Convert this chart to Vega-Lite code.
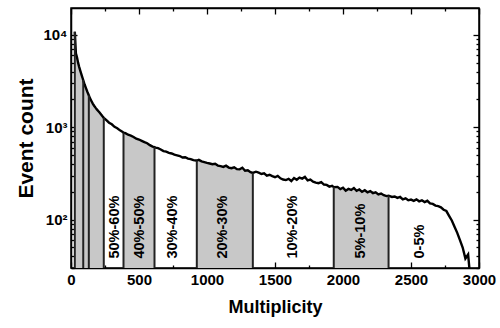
{
  "$schema": "https://vega.github.io/schema/vega-lite/v6.json",
  "width": 408,
  "height": 260,
  "autosize": {"type": "none"},
  "padding": {"left": 71, "top": 8, "right": 21, "bottom": 60},
  "background": "white",
  "config": {
    "view": {"stroke": "black", "strokeWidth": 1.5},
    "font": "Liberation Sans",
    "axis": {
      "labelFont": "Liberation Sans",
      "labelFontWeight": "bold",
      "labelFontSize": 15,
      "labelColor": "black",
      "titleFont": "Liberation Sans",
      "titleFontWeight": "bold",
      "titleColor": "black",
      "domainColor": "black",
      "domainWidth": 1.5,
      "tickColor": "black",
      "tickWidth": 1.3,
      "grid": false,
      "labelOverlap": false,
      "labelBound": false,
      "labelFlush": false
    }
  },
  "datasets": {
    "h": [
      {"m": 28, "c": 10800}, {"m": 36, "c": 6300}, {"m": 44, "c": 5700}, {"m": 52, "c": 5000},
      {"m": 60, "c": 4500}, {"m": 68, "c": 4100}, {"m": 76, "c": 3750}, {"m": 84, "c": 3450},
      {"m": 92, "c": 3150}, {"m": 100, "c": 2900}, {"m": 110, "c": 2650}, {"m": 120, "c": 2420},
      {"m": 130, "c": 2230}, {"m": 140, "c": 2050}, {"m": 150, "c": 1920}, {"m": 160, "c": 1800},
      {"m": 170, "c": 1710}, {"m": 180, "c": 1630}, {"m": 190, "c": 1560}, {"m": 200, "c": 1500},
      {"m": 210, "c": 1440}, {"m": 220, "c": 1380}, {"m": 230, "c": 1320}, {"m": 241, "c": 1265},
      {"m": 260, "c": 1195}, {"m": 280, "c": 1120}, {"m": 300, "c": 1075}, {"m": 320, "c": 1010},
      {"m": 340, "c": 975}, {"m": 360, "c": 925}, {"m": 380, "c": 890}, {"m": 386, "c": 875},
      {"m": 400, "c": 862}, {"m": 420, "c": 830}, {"m": 440, "c": 812}, {"m": 460, "c": 785},
      {"m": 480, "c": 752}, {"m": 500, "c": 736}, {"m": 520, "c": 712}, {"m": 540, "c": 690},
      {"m": 560, "c": 672}, {"m": 580, "c": 640}, {"m": 600, "c": 618}, {"m": 614, "c": 610},
      {"m": 620, "c": 602}, {"m": 640, "c": 594}, {"m": 660, "c": 575}, {"m": 680, "c": 552},
      {"m": 700, "c": 545}, {"m": 720, "c": 528}, {"m": 740, "c": 520}, {"m": 760, "c": 505},
      {"m": 780, "c": 497}, {"m": 800, "c": 488}, {"m": 820, "c": 470}, {"m": 840, "c": 474},
      {"m": 860, "c": 458}, {"m": 880, "c": 452}, {"m": 900, "c": 440}, {"m": 920, "c": 436},
      {"m": 925, "c": 436}, {"m": 940, "c": 444}, {"m": 960, "c": 428}, {"m": 980, "c": 420},
      {"m": 1000, "c": 412}, {"m": 1020, "c": 405}, {"m": 1040, "c": 398}, {"m": 1060, "c": 402},
      {"m": 1080, "c": 385}, {"m": 1100, "c": 380}, {"m": 1120, "c": 372}, {"m": 1140, "c": 384},
      {"m": 1160, "c": 366}, {"m": 1180, "c": 360}, {"m": 1200, "c": 368}, {"m": 1220, "c": 352},
      {"m": 1240, "c": 350}, {"m": 1260, "c": 364}, {"m": 1280, "c": 338}, {"m": 1300, "c": 342},
      {"m": 1320, "c": 326}, {"m": 1337, "c": 320}, {"m": 1360, "c": 330}, {"m": 1380, "c": 322},
      {"m": 1400, "c": 312}, {"m": 1420, "c": 318}, {"m": 1440, "c": 300}, {"m": 1460, "c": 306},
      {"m": 1480, "c": 296}, {"m": 1500, "c": 288}, {"m": 1520, "c": 298}, {"m": 1540, "c": 280},
      {"m": 1560, "c": 272}, {"m": 1580, "c": 268}, {"m": 1600, "c": 276}, {"m": 1620, "c": 262},
      {"m": 1640, "c": 282}, {"m": 1660, "c": 270}, {"m": 1680, "c": 285}, {"m": 1700, "c": 278},
      {"m": 1720, "c": 290}, {"m": 1740, "c": 266}, {"m": 1760, "c": 272}, {"m": 1780, "c": 258},
      {"m": 1800, "c": 252}, {"m": 1820, "c": 248}, {"m": 1840, "c": 255}, {"m": 1860, "c": 240},
      {"m": 1880, "c": 238}, {"m": 1900, "c": 228}, {"m": 1920, "c": 232}, {"m": 1932, "c": 225},
      {"m": 1960, "c": 226}, {"m": 1980, "c": 214}, {"m": 2000, "c": 222}, {"m": 2020, "c": 206},
      {"m": 2040, "c": 215}, {"m": 2060, "c": 210}, {"m": 2080, "c": 220}, {"m": 2100, "c": 205},
      {"m": 2120, "c": 212}, {"m": 2140, "c": 200}, {"m": 2160, "c": 208}, {"m": 2180, "c": 198},
      {"m": 2200, "c": 204}, {"m": 2220, "c": 194}, {"m": 2240, "c": 198}, {"m": 2260, "c": 188},
      {"m": 2280, "c": 192}, {"m": 2300, "c": 184}, {"m": 2320, "c": 180}, {"m": 2335, "c": 182},
      {"m": 2360, "c": 176}, {"m": 2380, "c": 178}, {"m": 2400, "c": 172}, {"m": 2420, "c": 176},
      {"m": 2440, "c": 166}, {"m": 2460, "c": 170}, {"m": 2480, "c": 162}, {"m": 2500, "c": 165},
      {"m": 2520, "c": 160}, {"m": 2540, "c": 166}, {"m": 2560, "c": 158}, {"m": 2580, "c": 162},
      {"m": 2600, "c": 155}, {"m": 2620, "c": 160}, {"m": 2640, "c": 150}, {"m": 2660, "c": 148},
      {"m": 2680, "c": 142}, {"m": 2700, "c": 140}, {"m": 2720, "c": 136}, {"m": 2740, "c": 128},
      {"m": 2760, "c": 124}, {"m": 2780, "c": 110}, {"m": 2800, "c": 98}, {"m": 2820, "c": 84},
      {"m": 2840, "c": 72}, {"m": 2860, "c": 60}, {"m": 2880, "c": 50}, {"m": 2900, "c": 38},
      {"m": 2920, "c": 42}, {"m": 2940, "c": 20}
    ],
    "cuts": [
      {"m": 28, "c": 10800}, {"m": 90, "c": 3250}, {"m": 131, "c": 2210}, {"m": 241, "c": 1265},
      {"m": 386, "c": 875}, {"m": 614, "c": 610}, {"m": 925, "c": 436}, {"m": 1337, "c": 320},
      {"m": 1932, "c": 225}, {"m": 2335, "c": 182}
    ],
    "labels": [
      {"m": 320, "t": "50%-60%"}, {"m": 504, "t": "40%-50%"}, {"m": 747, "t": "30%-40%"},
      {"m": 1116, "t": "20%-30%"}, {"m": 1630, "t": "10%-20%"}, {"m": 2134, "t": "5%-10%"},
      {"m": 2563, "t": "0-5%"}
    ]
  },
  "layer": [
    {
      "data": {"name": "h"},
      "transform": [
        {"filter": "(datum.m >= 28 && datum.m <= 241) || (datum.m >= 386 && datum.m <= 614) || (datum.m >= 925 && datum.m <= 1337) || (datum.m >= 1932 && datum.m <= 2335)"},
        {"calculate": "datum.m <= 241 ? 1 : datum.m <= 614 ? 2 : datum.m <= 1337 ? 3 : 4", "as": "g"}
      ],
      "mark": {"type": "area", "color": "#c8c8c8", "clip": true},
      "encoding": {
        "x": {
          "field": "m", "type": "quantitative",
          "scale": {"domain": [0, 3000], "nice": false, "zero": false},
          "axis": {
            "title": "Multiplicity", "titleFontSize": 18, "titlePadding": 8,
            "values": [0, 250, 500, 750, 1000, 1250, 1500, 1750, 2000, 2250, 2500, 2750, 3000],
            "labelExpr": "datum.value % 500 === 0 ? '' + datum.value : ''",
            "tickSize": {"condition": {"test": "datum.value % 500 === 0", "value": -6}, "value": -3},
            "labelPadding": 10
          }
        },
        "y": {
          "field": "c", "type": "quantitative",
          "scale": {"type": "log", "domain": [30, 19500], "nice": false},
          "axis": {
            "title": "Event count", "titleFontSize": 21, "titlePadding": 6,
            "values": [30, 40, 50, 60, 70, 80, 90, 100, 200, 300, 400, 500, 600, 700, 800, 900, 1000, 2000, 3000, 4000, 5000, 6000, 7000, 8000, 9000, 10000],
            "labelExpr": "datum.value === 100 ? '10²' : datum.value === 1000 ? '10³' : datum.value === 10000 ? '10⁴' : ''",
            "tickSize": {"condition": {"test": "datum.value === 100 || datum.value === 1000 || datum.value === 10000", "value": -6}, "value": -3},
            "labelPadding": 10
          }
        },
        "y2": {"datum": 30},
        "detail": {"field": "g", "type": "nominal"}
      }
    },
    {
      "data": {"name": "h"},
      "mark": {"type": "line", "color": "black", "strokeWidth": 2.4, "clip": true},
      "encoding": {
        "x": {"field": "m", "type": "quantitative", "axis": null},
        "y": {"field": "c", "type": "quantitative", "axis": null}
      }
    },
    {
      "data": {"name": "cuts"},
      "mark": {"type": "rule", "color": "#222222", "strokeWidth": 2, "clip": true},
      "encoding": {
        "x": {
          "field": "m", "type": "quantitative",
          "axis": {
            "orient": "top", "title": null, "labels": false, "domain": true,
            "values": [0, 250, 500, 750, 1000, 1250, 1500, 1750, 2000, 2250, 2500, 2750, 3000],
            "tickSize": {"condition": {"test": "datum.value % 500 === 0", "value": -6}, "value": -3}
          }
        },
        "y": {
          "field": "c", "type": "quantitative",
          "axis": {
            "orient": "right", "title": null, "labels": false, "domain": true,
            "values": [30, 40, 50, 60, 70, 80, 90, 100, 200, 300, 400, 500, 600, 700, 800, 900, 1000, 2000, 3000, 4000, 5000, 6000, 7000, 8000, 9000, 10000],
            "tickSize": {"condition": {"test": "datum.value === 100 || datum.value === 1000 || datum.value === 10000", "value": -6}, "value": -3}
          }
        },
        "y2": {"datum": 30}
      }
    },
    {
      "data": {"name": "labels"},
      "mark": {"type": "text", "angle": 270, "align": "left", "baseline": "middle", "font": "Liberation Sans", "fontWeight": "bold", "fontSize": 14.5, "color": "black"},
      "encoding": {
        "x": {"field": "m", "type": "quantitative", "axis": null},
        "y": {"datum": 38, "axis": null},
        "text": {"field": "t"}
      }
    }
  ],
  "resolve": {"axis": {"x": "independent", "y": "independent"}}
}
